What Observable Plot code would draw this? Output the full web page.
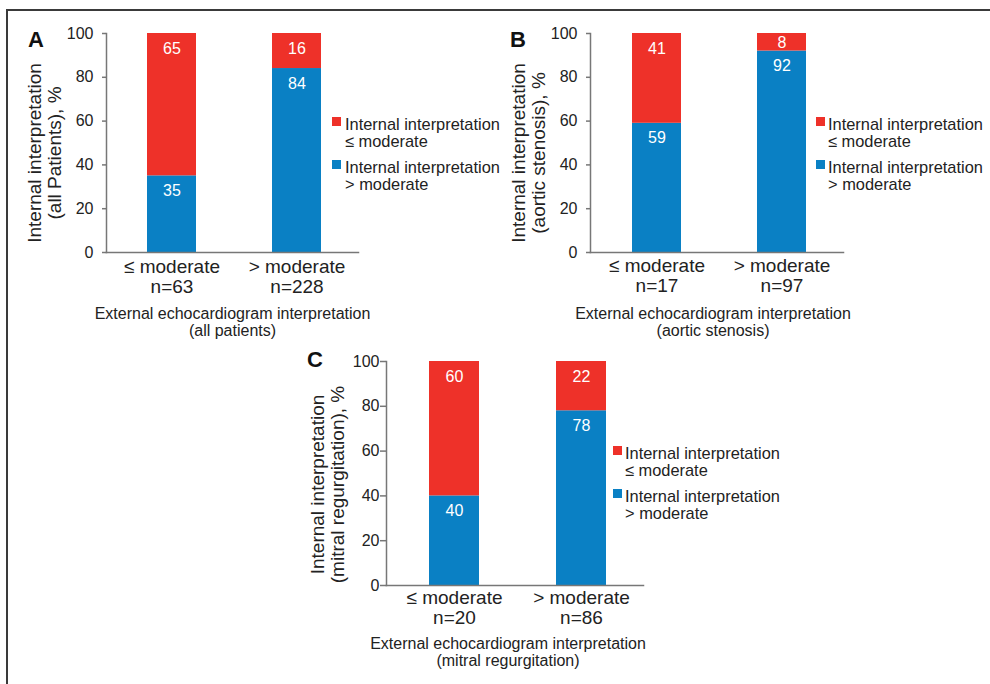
<!DOCTYPE html>
<html>
<head>
<meta charset="utf-8">
<script src="https://cdn.jsdelivr.net/npm/d3@7"></script>
<script src="https://cdn.jsdelivr.net/npm/@observablehq/plot@0.6"></script>
<style>
  html, body { margin: 0; padding: 0; background: #fff; }
  #fig { position: relative; width: 990px; height: 684px; overflow: hidden; background: #fff;
         font-family: "Liberation Sans", Arial, Helvetica, sans-serif; color: #222; }
  .border-top { position: absolute; left: 7px; top: 9px; width: 983px; height: 0; border-top: 2px solid #3a3a3a; }
  .border-left { position: absolute; left: 6px; top: 9px; width: 0; height: 680px; border-left: 2px solid #3a3a3a; }
  .panel { position: absolute; }
  .letter { position: absolute; font-weight: bold; font-size: 22px; line-height: 22px; color: #111; }
  .sw { position: absolute; width: 9px; height: 9px; }
  .lt { position: absolute; font-size: 16.4px; line-height: 17px; white-space: nowrap; overflow: hidden; color: #222; }
</style>
</head>
<body>
<div id="fig">
  <div class="border-top"></div>
  <div class="border-left"></div>
</div>
<script>
// ---- data ----
const groups = ["≤ moderate", "> moderate"];
const seriesNames = ["Internal interpretation\n> moderate", "Internal interpretation\n≤ moderate"];
const seriesColors = ["#0a80c4", "#ee3129"];
const panelLetters = ["A", "B", "C"];

const nA = [63, 228];
const aboveA = [35, 84];   // internal > moderate (blue)
const belowA = [65, 16];   // internal ≤ moderate (red)

const nB = [17, 97];
const aboveB = [59, 92];
const belowB = [41, 8];

const nC = [20, 86];
const aboveC = [40, 78];
const belowC = [60, 22];

const yTicks = [0, 20, 40, 60, 80, 100];
const yLabels = [
  "Internal interpretation\n(all Patients), %",
  "Internal interpretation\n(aortic stenosis), %",
  "Internal interpretation\n(mitral regurgitation), %"
];
const xTitles = [
  "External echocardiogram interpretation\n(all patients)",
  "External echocardiogram interpretation\n(aortic stenosis)",
  "External echocardiogram interpretation\n(mitral regurgitation)"
];

const panelData = [
  {n: nA, above: aboveA, below: belowA},
  {n: nB, above: aboveB, below: belowB},
  {n: nC, above: aboveC, below: belowC}
];

// ---- layout ----
const layout = [
  {left: 0,   top: 0,   width: 360, height: 342, mb: 90, tickSize: 4, tickPadding: 9, ylDx: -62, ylDy: 10, tDx: 0,  tDy: 54, cDy: 6,
   letter: [28, 29], sw: [332, 117], txt: [345, 116], txtW: 200},
  {left: 484, top: 0,   width: 361, height: 342, mb: 90, tickSize: 4, tickPadding: 9, ylDx: -62, ylDy: 10, tDx: -4, tDy: 54, cDy: 5,
   letter: [510, 29], sw: [816, 117], txt: [828, 116], txtW: 155},
  {left: 280, top: 328, width: 365, height: 347, mb: 90, tickSize: 6, tickPadding: 1, ylDx: -59, ylDy: 11, tDx: -7, tDy: 51, cDy: 4,
   letter: [307, 349], sw: [613, 446], txt: [625, 445], txtW: 200}
];

const fig = document.getElementById("fig");

panelData.forEach((p, i) => {
  const L = layout[i];
  // build stacked rows: blue (above) on the bottom, red (below) on top
  const rows = [];
  groups.forEach((g, j) => {
    const vals = [p.above[j], p.below[j]];
    let base = 0;
    vals.forEach((v, s) => {
      rows.push({group: g, series: s, value: v, y1: base, y2: base + v});
      base += v;
    });
  });
  const catLabel = (g) => g + "\nn=" + p.n[groups.indexOf(g)];

  const chart = Plot.plot({
    width: L.width,
    height: L.height,
    marginLeft: 106,
    marginRight: 2,
    marginTop: 33,
    marginBottom: L.mb,
    style: {fontFamily: '"Liberation Sans", Arial, Helvetica, sans-serif', fontSize: "16px", color: "#222", background: "transparent", overflow: "visible"},
    x: {domain: groups, axis: null, paddingInner: 0.61, paddingOuter: 0.31, align: 0.53},
    y: {domain: [0, 100]},
    marks: [
      Plot.barY(rows, {x: "group", y1: "y1", y2: "y2", fill: d => seriesColors[d.series]}),
      Plot.text(rows.filter(d => d.value >= 12), {x: "group", y: "y2", text: d => String(d.value), dy: 15, fill: "white", fontSize: 16, lineAnchor: "middle"}),
      Plot.text(rows.filter(d => d.value < 12), {x: "group", y: d => (d.y1 + d.y2) / 2, text: d => String(d.value), dy: 1, fill: "white", fontSize: 16, lineAnchor: "middle"}),
      Plot.axisY({ticks: yTicks, tickSize: L.tickSize, tickPadding: L.tickPadding, label: null, fontSize: 16, stroke: "#777", strokeWidth: 1.5, fill: "#222"}),
      Plot.frame({anchor: "left", stroke: "#777", strokeWidth: 1.5}),
      Plot.frame({anchor: "bottom", stroke: "#777", strokeWidth: 1.5}),
      Plot.text(groups, {x: d => d, text: catLabel, frameAnchor: "bottom", lineAnchor: "top", dy: L.cDy, fontSize: 19, lineHeight: 1.05, fill: "#222"}),
      Plot.text([xTitles[i]], {text: d => d, frameAnchor: "bottom", lineAnchor: "top", dx: L.tDx, dy: L.tDy, fontSize: 16, lineHeight: 1.06, fill: "#222"}),
      Plot.text([yLabels[i]], {text: d => d, frameAnchor: "left", textAnchor: "middle", rotate: -90, lineAnchor: "middle", dx: L.ylDx, dy: L.ylDy, fontSize: 19, lineHeight: 1.05, fill: "#222"})
    ]
  });
  const wrap = document.createElement("div");
  wrap.className = "panel";
  wrap.style.left = L.left + "px";
  wrap.style.top = L.top + "px";
  wrap.appendChild(chart);
  fig.appendChild(wrap);

  // panel letter
  const let_ = document.createElement("div");
  let_.className = "letter";
  let_.style.left = L.letter[0] + "px";
  let_.style.top = L.letter[1] + "px";
  let_.textContent = panelLetters[i];
  fig.appendChild(let_);

  // legend: red (≤ moderate) first, then blue (> moderate)
  [1, 0].forEach((s, k) => {
    const sw = document.createElement("div");
    sw.className = "sw";
    sw.style.background = seriesColors[s];
    sw.style.left = L.sw[0] + "px";
    sw.style.top = (L.sw[1] + k * 43) + "px";
    fig.appendChild(sw);
    const t = document.createElement("div");
    t.className = "lt";
    t.style.left = L.txt[0] + "px";
    t.style.top = (L.txt[1] + k * 43) + "px";
    t.style.width = L.txtW + "px";
    t.innerHTML = seriesNames[s].split("\n").join("<br>");
    fig.appendChild(t);
  });
});
</script>
</body>
</html>
